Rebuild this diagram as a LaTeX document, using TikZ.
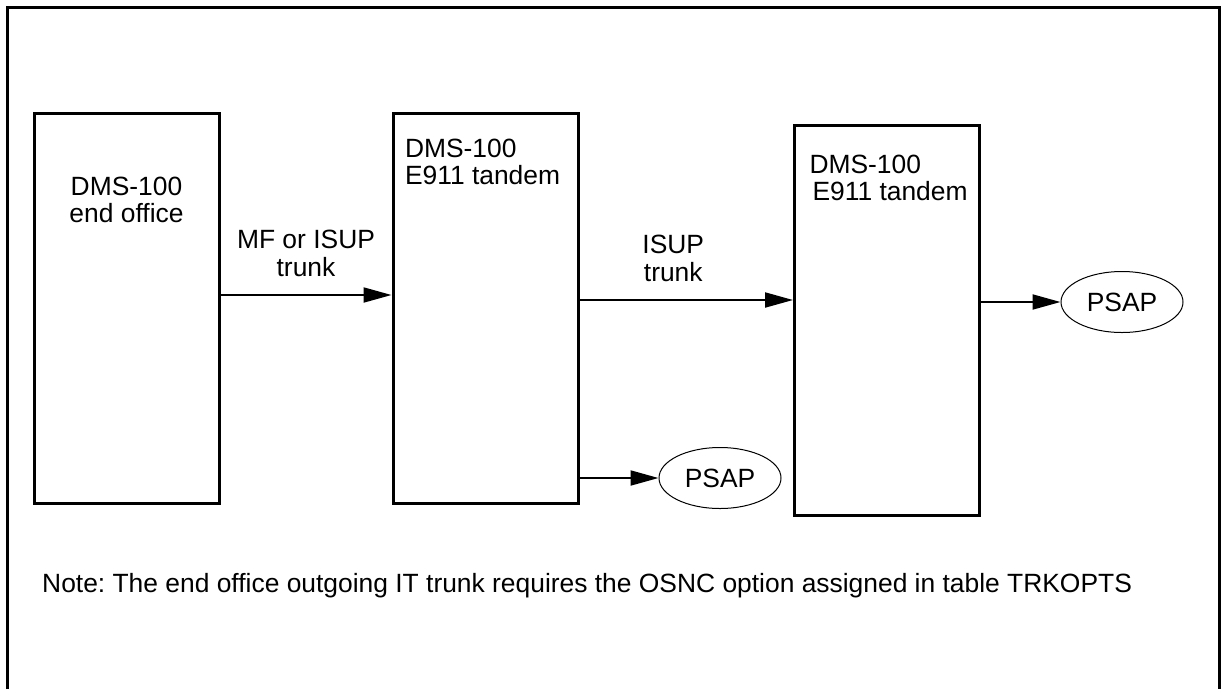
\documentclass[tikz,border=0pt]{standalone}
\usepackage{fontspec}
\setmainfont{Liberation Sans}
\usetikzlibrary{arrows.meta,shapes.geometric}
\frenchspacing
\begin{document}
\begin{tikzpicture}[x=1pt, y=-1pt, font=\fontsize{26.4}{27.5}\selectfont,
  box/.style={draw, line width=3pt, minimum width=185pt, minimum height=390pt, inner sep=0pt},
  psap/.style={draw, ellipse, line width=1pt, minimum width=122pt, minimum height=61pt, inner sep=0pt},
  arr/.style={line width=2pt, -{Triangle[length=28pt,width=15pt]}}]
  \useasboundingbox (0,0) rectangle (1224,689);
  \draw[line width=3pt] (7,689) |- (1219,7) -- (1219,689);
  % offices
  \node [box, label={[align=center, anchor=north, yshift=-62pt]north:{DMS-100\\end office}}] (EO) at (126.5,308) {};
  \node [box, label={[align=left, anchor=north west, xshift=10pt, yshift=-24pt]north west:{DMS-100\\E911 tandem}}] (T1) at (485.5,308) {};
  \node [box, label={[align=left, anchor=north west, xshift=13pt, yshift=-28pt]north west:{DMS-100\\\hspace{3pt}E911 tandem}}] (T2) at (887,320) {};
  % answering points
  \node [psap] (P1) at (720,478) {PSAP};
  \node [psap] (P2) at (1122,302) {PSAP};
  \draw[arr] (EO.east |- 0,295) -- node[above=14pt, align=center] {MF or ISUP\\trunk} (T1.west |- 0,295);
  \draw[arr] (T1.east |- 0,300) -- node[above=14pt, xshift=-13pt, align=center] {ISUP\\trunk} (T2.west |- 0,300);
  \draw[arr] (T1.east |- P1.west) -- (P1.west);
  \draw[arr] (T2.east |- P2.west) -- (P2.west);
  \node [anchor=west, inner sep=0pt] (Note) at (42,586) {Note: The end office outgoing IT trunk requires the OSNC option assigned in table TRKOPTS};
\end{tikzpicture}
\end{document}
